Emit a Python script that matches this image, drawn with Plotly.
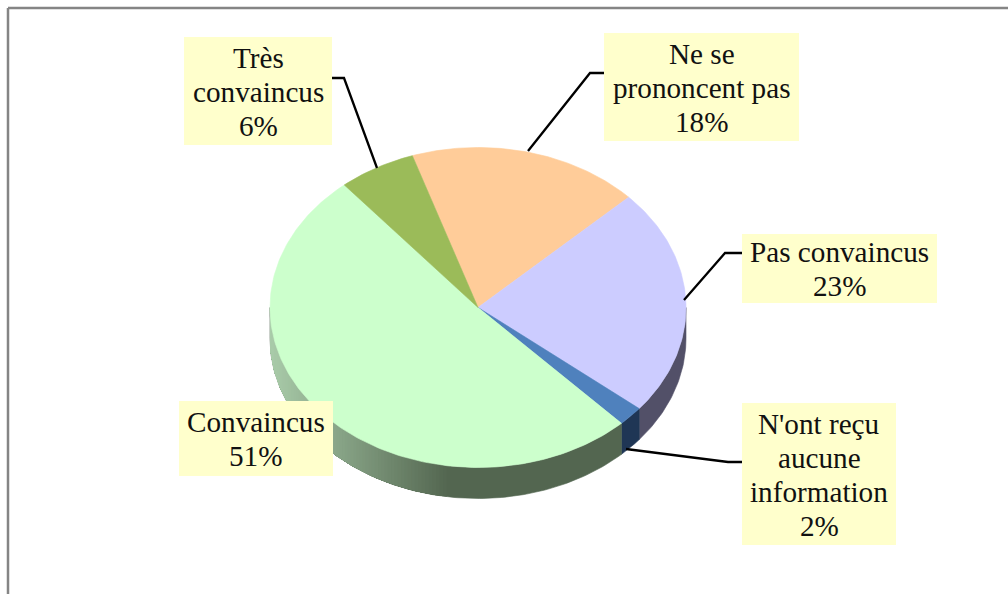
import math
import plotly.graph_objects as go

# --- data ---
categories = ["Ne se<br>prononcent pas", "Pas convaincus", "N'ont reçu<br>aucune<br>information", "Convaincus", "Très<br>convaincus"]
values = [18, 23, 2, 51, 6]
colors = ["#ffcc99", "#ccccff", "#4f81bd", "#ccffcc", "#9bbb59"]
side_colors = ["#665240", "#525068", "#1f3655", "#536650", "#3e4a24"]

# --- geometry and styling ---
W, H = 1008, 594
CX, CY, RX, RY, DEPTH = 478, 307.5, 208, 160, 31
START = -18.4
FONT = "Liberation Serif"
FONT_SIZE = 29.2
BOX = "#ffffcc"

label_boxes = [(604, 33, 799, 141), (742, 234, 937, 303), (742, 403, 896, 545), (179, 401, 333, 476), (184, 37, 332, 145)]
leaders = [
    [(604, 73), (590, 73), (528, 151)],
    [(742, 253), (725, 253), (684, 300)],
    [(742, 462), (728, 462), (626, 449)],
    None,
    [(332, 78), (344, 78), (377, 168)],
]


def pt(theta, dy=0):
    a = math.radians(theta)
    return CX + RX * math.sin(a), CY - RY * math.cos(a) + dy


def frange(a, b, step=1.0):
    n = max(1, int(abs(b - a) / step))
    return [a + (b - a) * i / n for i in range(n + 1)]


def poly(xs, ys, color, width=0.6):
    return go.Scatter(x=xs, y=ys, mode="lines", fill="toself", fillcolor=color,
                      line=dict(color=color, width=width), hoverinfo="skip", showlegend=False)


def wall(a, b, color, width=0.6):
    ts = frange(a, b)
    top = [pt(t) for t in ts]
    bot = [pt(t, DEPTH) for t in reversed(ts)]
    pts = top + bot + top[:1]
    return poly([p[0] for p in pts], [p[1] for p in pts], color, width)


def mix(c0, c1, t):
    return "rgb(%d,%d,%d)" % tuple(round(a + (b - a) * t) for a, b in zip(c0, c1))


total = sum(values)
edges = [START]
for v in values:
    edges.append(edges[-1] + 360 * v / total)

fig = go.Figure()

# side wall: only the front half (90..270 degrees) is visible
for i, (a, b) in enumerate(zip(edges[:-1], edges[1:])):
    lo, hi = max(a, 90), min(b, 270)
    if lo >= hi:
        continue
    fig.add_trace(wall(lo, hi, side_colors[i]))
    if categories[i] == "Convaincus":
        # lit gradient: nested walls, each shorter and paler than the last,
        # so that no seam shows between neighbouring strips
        for t in frange(lo, hi - 1, 1.0):
            f = (450 - pt(t)[0]) / 180
            if f > 0:
                fig.add_trace(wall(t, hi, mix((0x53, 0x66, 0x50), (0xaa, 0xcc, 0xaa), min(1, f)), 0))

# top face
for i, (a, b) in enumerate(zip(edges[:-1], edges[1:])):
    arc = [pt(t) for t in frange(a, b)]
    pts = [(CX, CY)] + arc + [(CX, CY)]
    fig.add_trace(poly([p[0] for p in pts], [p[1] for p in pts], colors[i]))

shapes = [
    dict(type="line", x0=8, y0=8, x1=W, y1=8, line=dict(color="#858585", width=2.5)),
    dict(type="line", x0=8, y0=8, x1=8, y1=H, line=dict(color="#858585", width=2.5)),
]
annotations = []
for cat, v, box, lead in zip(categories, values, label_boxes, leaders):
    shapes.append(dict(type="rect", x0=box[0], y0=box[1], x1=box[2], y1=box[3],
                       fillcolor=BOX, line=dict(width=0), layer="above"))
    if lead:
        path = "M " + " L ".join(f"{x},{y}" for x, y in lead)
        shapes.append(dict(type="path", path=path, line=dict(color="black", width=2.3), layer="above"))
    lines = cat.split("<br>") + [f"{v}%"]
    mid = (box[1] + box[3]) / 2 + 0.5
    for j, line in enumerate(lines):
        annotations.append(dict(x=(box[0] + box[2]) / 2, y=mid + (j - (len(lines) - 1) / 2) * 34,
                                text=line, showarrow=False, xref="x", yref="y",
                                font=dict(family=FONT, size=FONT_SIZE, color="#111111"),
                                xanchor="center", yanchor="middle"))

fig.update_layout(
    width=W, height=H, margin=dict(l=0, r=0, t=0, b=0),
    paper_bgcolor="white", plot_bgcolor="white", showlegend=False, hovermode=False,
    xaxis=dict(range=[0, W], visible=False, fixedrange=True),
    yaxis=dict(range=[H, 0], visible=False, fixedrange=True),
    shapes=shapes, annotations=annotations,
)
fig.write_html("out.html", config=dict(displayModeBar=False),
               post_script="document.body.style.margin='0';document.body.style.overflow='hidden';")
